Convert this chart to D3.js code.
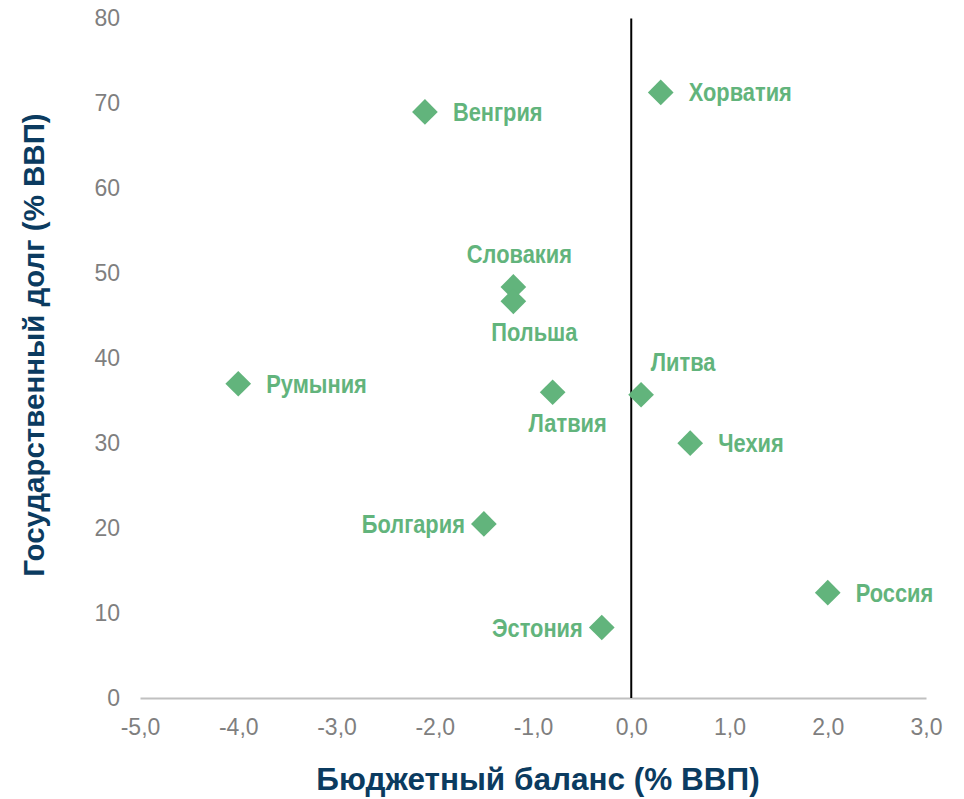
<!DOCTYPE html>
<html>
<head>
<meta charset="utf-8">
<script src="https://cdn.jsdelivr.net/npm/d3@7/dist/d3.min.js"></script>
<style>
  body { margin: 0; background: #fff; }
  svg { display: block; }
</style>
</head>
<body>
<div id="chart"></div>
<script>
// data
const countries = ["Венгрия", "Хорватия", "Словакия", "Польша", "Румыния", "Латвия",
                   "Литва", "Чехия", "Болгария", "Россия", "Эстония"]
const budgetBalance = [-2.1, 0.3, -1.2, -1.2, -4.0, -0.8, 0.1, 0.6, -1.5, 2.0, -0.3]
const publicDebt = [69.0, 71.3, 48.4, 46.7, 37.0, 36.0, 35.7, 30.0, 20.5, 12.4, 8.3]
const labelSide = ["right", "right", "above", "below", "right", "below",
                   "above", "right", "left", "right", "left"]
const xTicks = [-5, -4, -3, -2, -1, 0, 1, 2, 3]
const yTicks = [0, 10, 20, 30, 40, 50, 60, 70, 80]
const xTitle = "Бюджетный баланс (% ВВП)"
const yTitle = "Государственный долг (% ВВП)"

var width = 964
var height = 799
var green = "#62b47c"
var navy = "#0b3b60"
var sans = "'Liberation Sans', Arial, sans-serif"

let xScale = d3.scaleLinear().domain([-5, 3]).range([140, 926])
let yScale = d3.scaleLinear().domain([0, 80]).range([698, 18.5])

var loc = d3.formatLocale({decimal: ",", thousands: " ", grouping: [3], currency: ["", ""], minus: "-"})

var svg = d3.select("#chart").append("svg")
    .attr("width", width)
    .attr("height", height)

//x axis - the gray zero line
var xAxis = d3.axisBottom(xScale)
    .tickValues(xTicks)
    .tickSize(0)
    .tickPadding(21)
    .tickFormat(loc.format(".1f"))
var gx = svg.append("g")
    .attr("transform", "translate(0," + yScale(0) + ")")
    .call(xAxis)
gx.select(".domain").attr("stroke", "#c0c0c0").attr("stroke-width", 2)
gx.selectAll("text")
    .style("font-family", sans)
    .style("font-size", "23px")
    .attr("fill", "#7f7f7f")

var yAxis = d3.axisLeft(yScale)
    .tickValues(yTicks)
    .tickSize(0)
    .tickPadding(20)
    .tickFormat(d3.format("d"))
var gy = svg.append("g")
    .attr("transform", "translate(" + xScale(-5) + ",0)")
    .call(yAxis)
gy.select(".domain").remove()
gy.selectAll("text")
    .style("font-family", sans)
    .style("font-size", "23px")
    .attr("fill", "#7f7f7f")

// vertical line at zero balance
svg.append("line")
    .attr("x1", xScale(0))
    .attr("x2", xScale(0))
    .attr("y1", yScale(0))
    .attr("y2", yScale(80))
    .attr("stroke", "#000")
    .attr("stroke-width", 2)

let points = countries.map(function(c, i) {
  return {name: c, x: budgetBalance[i], y: publicDebt[i], side: labelSide[i]}
})

var diamond = d3.symbol().type(d3.symbolSquare).size(330)
svg.selectAll(".pt")
    .data(points)
    .enter()
    .append("path")
    .attr("class", "pt")
    .attr("d", diamond)
    .attr("transform", function(d) { return "translate(" + xScale(d.x) + "," + yScale(d.y) + ") rotate(45)" })
    .attr("fill", green)

// label placement by side, plus a few hand nudges like in the original
var sideOffset = {
  right: {dx: 28, dy: 9, anchor: "start"},
  left: {dx: -19, dy: 9, anchor: "end"},
  above: {dx: 6, dy: -24, anchor: "middle"},
  below: {dx: 15, dy: 40, anchor: "middle"}
}
var nudge = {"Польша": [6, 0], "Литва": [36, 0]}

// no narrow font installed, so squeeze the bold one sideways
svg.selectAll(".lbl")
    .data(points)
    .enter()
    .append("text")
    .attr("class", "lbl")
    .attr("transform", function(d) {
      var n = nudge[d.name] || [0, 0]
      var tx = xScale(d.x) + sideOffset[d.side].dx + n[0]
      var ty = yScale(d.y) + sideOffset[d.side].dy + n[1]
      return "translate(" + tx + "," + ty + ") scale(0.84,1)"
    })
    .attr("text-anchor", function(d) { return sideOffset[d.side].anchor })
    .style("font-family", sans)
    .style("font-weight", "bold")
    .style("font-size", "26px")
    .attr("fill", green)
    .text(function(d) { return d.name })

// axis titles
svg.append("text")
    .attr("x", 538)
    .attr("y", 790)
    .attr("text-anchor", "middle")
    .style("font-family", sans)
    .style("font-weight", "bold")
    .style("font-size", "31.5px")
    .attr("fill", navy)
    .text(xTitle)

svg.append("text")
    .attr("transform", "translate(44,345) rotate(-90)")
    .attr("text-anchor", "middle")
    .style("font-family", sans)
    .style("font-weight", "bold")
    .style("font-size", "29.5px")
    .attr("fill", navy)
    .text(yTitle)
</script>
</body>
</html>
